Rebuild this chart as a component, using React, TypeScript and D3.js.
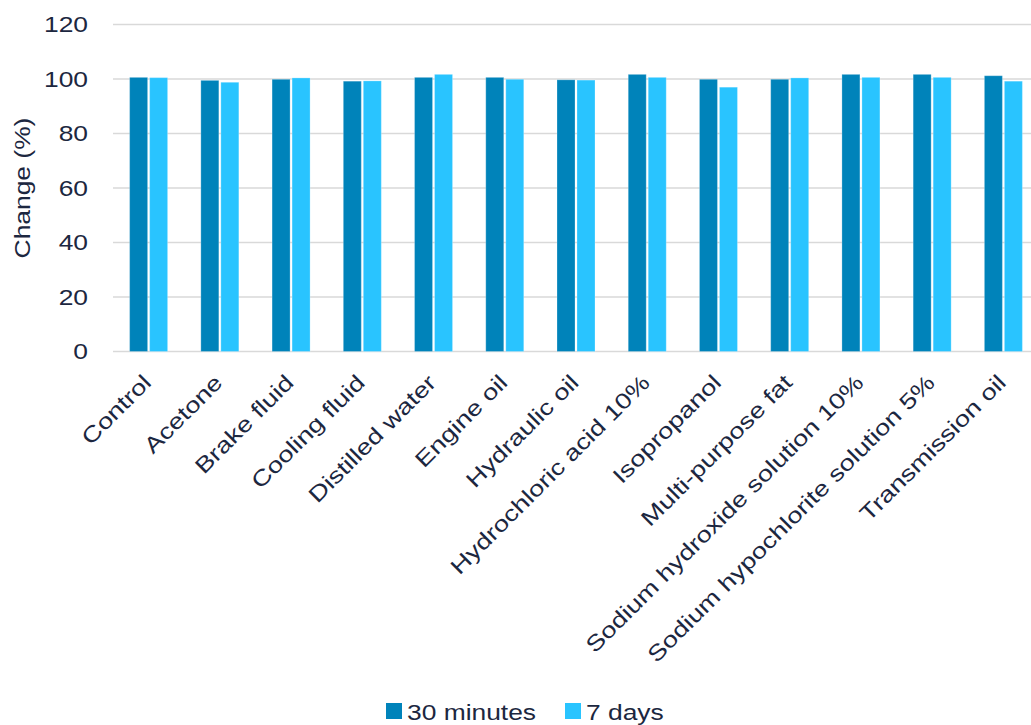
import React from "react";
import * as d3 from "d3";

const categories = [
  "Control",
  "Acetone",
  "Brake fluid",
  "Cooling fluid",
  "Distilled water",
  "Engine oil",
  "Hydraulic oil",
  "Hydrochloric acid 10%",
  "Isopropanol",
  "Multi-purpose fat",
  "Sodium hydroxide solution 10%",
  "Sodium hypochlorite solution 5%",
  "Transmission oil",
];

const series30min = [100.6, 99.5, 99.9, 99.2, 100.6, 100.6, 99.7, 101.7, 99.9, 99.9, 101.7, 101.7, 101.2];
const series7days = [100.5, 98.8, 100.4, 99.3, 101.7, 99.9, 99.6, 100.6, 97.0, 100.4, 100.6, 100.6, 99.2];

const yTicks = [0, 20, 40, 60, 80, 100, 120];
const seriesNames = ["30 minutes", "7 days"];
const seriesColors = ["#0083BA", "#29C4FF"];

const W = 1031;
const H = 725;
const FONT = "'Liberation Sans', Arial, Helvetica, sans-serif";
const TEXT = "#1c2740";
const SX = 1.2;
const SX_LABEL = 1.24;

export default function App() {
  const x = d3.scaleBand<string>().domain(categories).range([113, 1039]).padding(0);
  const y = d3.scaleLinear().domain([0, 120]).range([351.5, 24.5]);
  const bw = 18;
  const gap = 1;
  const seriesList = [series30min, series7days];

  return (
    <svg
      width={W}
      height={H}
      style={{ position: "absolute", left: 0, top: 0, background: "#fff" }}
      fontFamily={FONT}
    >
      {yTicks.map((t) => (
        <g key={t}>
          <line x1={113} x2={W} y1={y(t)} y2={y(t)} stroke="#d9d9d9" strokeWidth={1.5} />
          <text
            transform={`translate(88, ${y(t)}) scale(${SX},1)`}
            dy="0.36em"
            textAnchor="end"
            fontSize={22}
            fill={TEXT}
          >
            {t}
          </text>
        </g>
      ))}
      <text
        transform={`translate(22, 188) rotate(-90) scale(${SX},1)`}
        textAnchor="middle"
        dy="0.36em"
        fontSize={22}
        fill={TEXT}
      >
        Change (%)
      </text>
      {categories.map((c, i) => {
        const cx = (x(c) as number) + x.bandwidth() / 2;
        return (
          <g key={c}>
            {seriesList.map((s, k) => {
              const bx = k === 0 ? cx - gap - bw : cx + gap;
              return (
                <rect
                  key={k}
                  x={bx}
                  y={y(s[i])}
                  width={bw}
                  height={y(0) - y(s[i])}
                  fill={seriesColors[k]}
                  stroke="#ffffff"
                  strokeOpacity={0.25}
                  strokeWidth={1}
                />
              );
            })}
            <text
              transform={`translate(${cx + 4}, 384) rotate(-45) scale(${SX_LABEL},1)`}
              textAnchor="end"
              fontSize={22}
              fill={TEXT}
            >
              {c}
            </text>
          </g>
        );
      })}
      {seriesNames.map((n, k) => {
        const lx = k === 0 ? 386 : 565;
        return (
          <g key={n}>
            <rect x={lx} y={703} width={16} height={16} fill={seriesColors[k]} />
            <text
              transform={`translate(${lx + 21}, 720) scale(${SX},1)`}
              fontSize={22}
              fill={TEXT}
            >
              {n}
            </text>
          </g>
        );
      })}
    </svg>
  );
}
